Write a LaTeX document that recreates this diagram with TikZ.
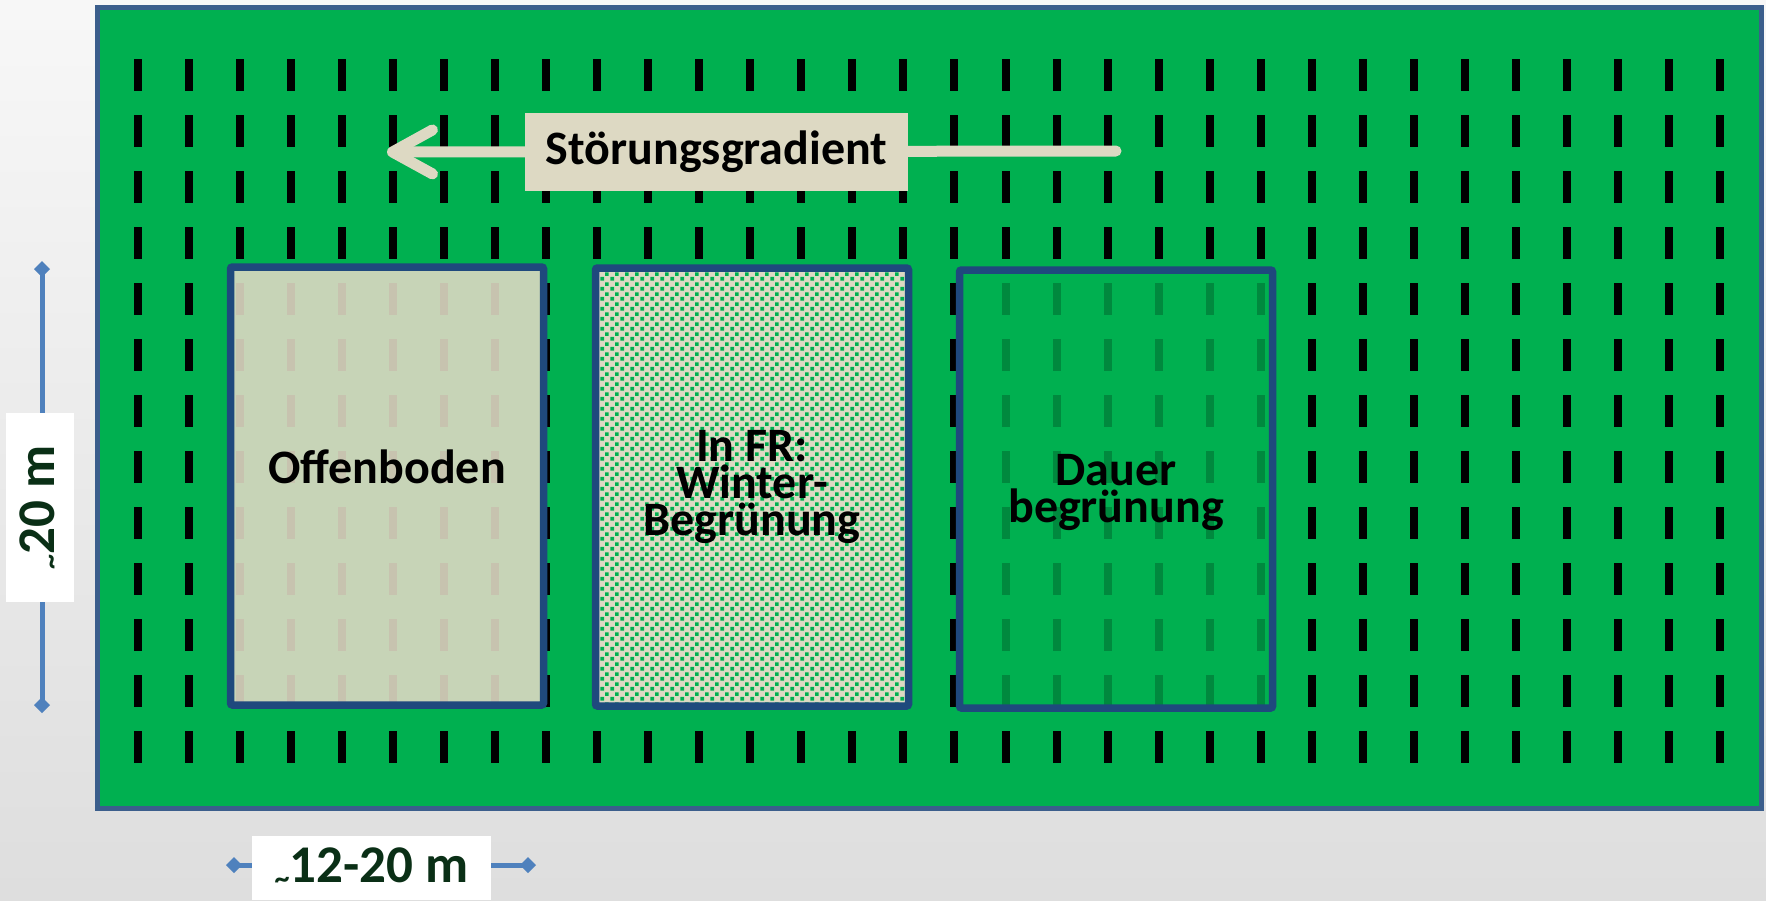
\documentclass[tikz,border=0pt]{standalone}
\usepackage{fontspec}
\setmainfont{Carlito}
\usetikzlibrary{arrows.meta,patterns.meta}
\definecolor{grass}{HTML}{00B050}
\definecolor{sand}{HTML}{DDD9C3}
\definecolor{frame}{HTML}{3B5E8C}
\definecolor{parcelblue}{HTML}{1F497D}
\definecolor{dimblue}{HTML}{4F81BD}
\definecolor{dimtext}{HTML}{0A2F16}
\newcommand{\DimTilde}{{\fontsize{30}{30}\selectfont\raisebox{-6pt}{\textasciitilde}}}

\tikzdeclarepattern{
  name=winterdots,
  type=colored,
  bottom left={(0pt,0pt)},
  top right={(10pt,10pt)},
  tile size={(10pt,10pt)},
  code={
    \fill[sand] (0pt,0pt) rectangle (10pt,10pt);
    \fill[grass] (0.5pt,0.5pt) rectangle (4.5pt,4.5pt);
    \fill[grass] (5.5pt,5.5pt) rectangle (9.5pt,9.5pt);
  }
}

\begin{document}
\begin{tikzpicture}
    [x=1pt, y=-1pt,
    vineyard/.style = {draw=frame, line width=5pt, fill=grass},
    furrow/.style = {line width=8pt},
    parcel/.style = {draw=parcelblue, line width=7.5pt, rounded corners=2pt,
        minimum width=313pt, minimum height=438pt, inner sep=0pt},
    parceltext/.style = {font=\fontsize{48}{37}\selectfont\bfseries, align=center},
    gradline/.style = {draw=sand, line width=11pt, line cap=round,
        -{Straight Barb[length=40pt, width=44pt, round]}},
    gradlabel/.style = {fill=sand, minimum width=383pt, minimum height=78pt,
        font=\fontsize{48}{50}\selectfont\bfseries},
    dimline/.style = {draw=dimblue, line width=5pt,
        {Diamond[length=16pt, width=16pt]}-{Diamond[length=16pt, width=16pt]}},
    dimlabel/.style = {fill=white, text=dimtext, inner sep=0pt,
        font=\fontsize{53}{56}\selectfont\bfseries}]

    \shade[top color=gray!6, bottom color=gray!26] (0,0) rectangle (1766,900);
    \useasboundingbox (0,0) rectangle (1766,900);
    \draw[vineyard] (97,7) rectangle (1761,808);

    % rows of vines
    \foreach \col in {0,...,31}
        \foreach \row in {0,...,12}
            \draw[furrow] ({138+51.03*\col},{59+56*\row}) -- ++(0,32);

    % the three parcels
    \node[parcel, fill=sand, fill opacity=0.9] (offen) at (387,486) {};
    \node[parcel, preaction={fill=sand}, pattern=winterdots] (winter) at (752,487) {};
    \node[parcel, fill=grass, fill opacity=0.78] (dauer) at (1116,489) {};

    \node[parceltext, anchor=base] (offentext) at ([yshift=3pt]offen.center) {Offenboden};
    \node[parceltext] (wintertext) at (winter.center) {In FR:\\Winter-\\Begrünung};
    \node[parceltext] (dauertext) at ([yshift=-3pt]dauer.center) {Dauer\\begrünung};

    % gradient arrow
    \coordinate (gradStart) at (1116,151);
    \coordinate (gradEnd) at (387,152);
    \draw[gradline] (gradStart) -- (gradEnd);
    \node[gradlabel] (gradient) at (716.5,152) {Störungsgradient};

    % dimensions
    \coordinate (vTop) at (42,261);
    \coordinate (vBot) at (42,713);
    \draw[dimline] (vTop) -- (vBot);
    \node[dimlabel, rotate=90, minimum width=189pt, minimum height=68pt] (vlabel)
        at (40,507.5) {\DimTilde20 m};
    \coordinate (hLeft) at (226,865);
    \coordinate (hRight) at (536,865);
    \draw[dimline] (hLeft) -- (hRight);
    \node[dimlabel, minimum width=239pt, minimum height=64pt] (hlabel)
        at (371.5,868) {\DimTilde12-20 m};
\end{tikzpicture}
\end{document}
